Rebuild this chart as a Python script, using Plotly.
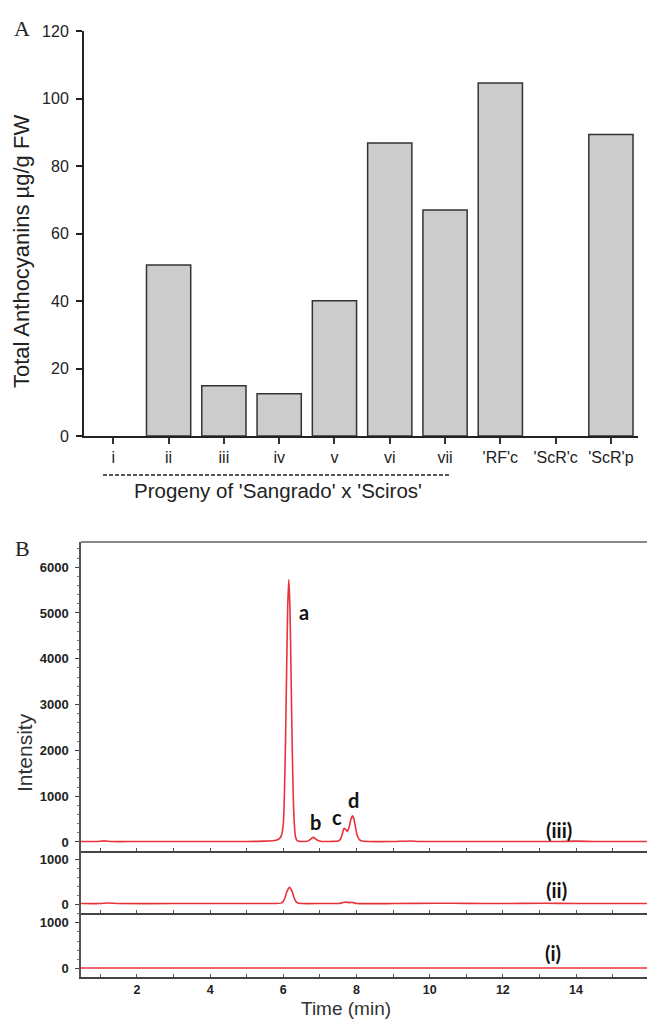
import plotly.graph_objects as go

# ---------------- Panel A data ----------------
categories = ["i", "ii", "iii", "iv", "v", "vi", "vii", "'RF'c", "'ScR'c", "'ScR'p"]
anthocyanins = [0, 50.7, 14.9, 12.5, 40.1, 86.8, 67.0, 104.6, 0, 89.3]
a_yticks = [0, 20, 40, 60, 80, 100, 120]

# ---------------- Panel B data (chromatograms) ----------------
t_iii = [0.47, 0.9, 1.1, 1.3, 2.0, 3.0, 4.0, 5.0, 5.5, 5.8, 5.9, 5.95, 6.0, 6.03, 6.06,
         6.09, 6.12, 6.15, 6.18, 6.21, 6.24, 6.27, 6.30, 6.33, 6.37, 6.42, 6.5, 6.6,
         6.7, 6.76, 6.82, 6.88, 6.95, 7.05, 7.3, 7.5, 7.56, 7.61, 7.66, 7.71, 7.75,
         7.80, 7.85, 7.89, 7.93, 7.97, 8.02, 8.08, 8.15, 8.3, 9.0, 9.5, 9.7, 10.5,
         12.0, 13.5, 14.0, 14.5, 15.0, 15.94]
i_iii = [10, 10, 25, 10, 10, 10, 10, 12, 18, 40, 80, 150, 400, 1050, 2200,
         3740, 5150, 5730, 5150, 3740, 2200, 1050, 400, 125, 40, 15, 10, 12,
         30, 70, 100, 70, 30, 12, 12, 20, 60, 170, 300, 270, 225,
         330, 500, 570, 500, 330, 140, 50, 20, 10, 10, 22, 10, 10,
         10, 10, 18, 10, 10, 10]

t_ii = [0.47, 1.0, 1.2, 1.5, 3.0, 5.0, 5.8, 5.95, 6.0, 6.05, 6.1, 6.17, 6.24, 6.29,
        6.34, 6.4, 6.5, 7.0, 7.5, 7.6, 7.7, 7.8, 7.9, 8.0, 9.0, 10.2, 11.0, 12.0,
        13.1, 14.0, 15.94]
i_ii = [10, 10, 22, 10, 10, 10, 12, 25, 60, 150, 280, 370, 280, 150,
        60, 20, 10, 10, 12, 25, 45, 30, 35, 12, 10, 18, 14, 10,
        16, 10, 10]

t_i = [0.47, 4.0, 8.0, 12.0, 15.94]
i_i = [15, 15, 15, 15, 15]

b_xticks = [2, 4, 6, 8, 10, 12, 14]

# ---------------- Figure geometry ----------------
W, H = 647, 1019


def py(px):
    return 1 - px / H


def pxx(px):
    return px / W


red = "#e8323c"
fig = go.Figure()

fig.add_trace(go.Bar(
    x=categories, y=anthocyanins, width=0.8,
    marker=dict(color="#cccccc",
                line=dict(color="#333333", width=[1.5 if v > 0 else 0 for v in anthocyanins])),
    xaxis="x", yaxis="y", showlegend=False, hoverinfo="skip"))

for t, v, ax in [(t_iii, i_iii, "2"), (t_ii, i_ii, "3"), (t_i, i_i, "4")]:
    fig.add_trace(go.Scatter(
        x=t, y=v, mode="lines", line=dict(color=red, width=1.6, shape="spline", smoothing=0.5),
        xaxis="x" + ax, yaxis="y" + ax, showlegend=False, hoverinfo="skip"))

arial = "Liberation Sans, Arial, sans-serif"

layout = dict(
    width=W, height=H, margin=dict(l=0, r=0, t=0, b=0, autoexpand=False),
    paper_bgcolor="white", plot_bgcolor="white",
    hovermode=False,
    xaxis=dict(domain=[pxx(84), pxx(638)], anchor="y", type="category", automargin=False,
               range=[-0.53, 9.49], showline=True, linecolor="#222", linewidth=2,
               ticks="outside", ticklen=6, tickwidth=1.5, tickcolor="#333",
               showgrid=False, zeroline=False,
               tickfont=dict(family=arial, size=16, color="#222")),
    yaxis=dict(domain=[py(436), py(31)], anchor="x", range=[0, 120], automargin=False,
               tickvals=a_yticks, showline=True, linecolor="#222", linewidth=2,
               ticks="outside", ticklen=6, tickwidth=1.5, tickcolor="#222",
               showgrid=False, zeroline=False, ticklabelstandoff=4,
               tickfont=dict(family=arial, size=16, color="#222")),
)

b_common_x = dict(range=[0.47, 15.94], showline=True, linecolor="#444",
                  linewidth=2, ticks="inside", ticklen=3, tickwidth=1, tickcolor="#555",
                  tickvals=b_xticks, automargin=False,
                  minor=dict(dtick=1, ticks="inside", ticklen=3, tickcolor="#555"),
                  showgrid=False, zeroline=False,
                  tickfont=dict(family=arial, size=12.5, color="#222", weight="bold"))
b_common_y = dict(showline=True, linecolor="#555", linewidth=1.5, ticks="outside", ticklen=4,
                  tickwidth=1.2, tickcolor="#444", showgrid=False, zeroline=False,
                  ticklabelstandoff=4, automargin=False,
                  minor=dict(dtick=200, ticks="outside", ticklen=2, tickcolor="#777"),
                  tickfont=dict(family=arial, size=13, color="#222", weight="bold"))

layout["xaxis2"] = dict(b_common_x, domain=[pxx(81), 1], anchor="y2", showticklabels=False)
layout["xaxis3"] = dict(b_common_x, domain=[pxx(81), 1], anchor="y3", showticklabels=False, matches="x2")
layout["xaxis4"] = dict(b_common_x, domain=[pxx(81), 1], anchor="y4", showticklabels=True, matches="x2")
layout["yaxis2"] = dict(b_common_y, domain=[py(851), py(542)], anchor="x2", range=[-197, 6550],
                        tickvals=[0, 1000, 2000, 3000, 4000, 5000, 6000])
layout["yaxis3"] = dict(b_common_y, domain=[py(913), py(851)], anchor="x3", range=[-200, 1178],
                        tickvals=[0, 1000])
layout["yaxis4"] = dict(b_common_y, domain=[py(977), py(913)], anchor="x4", range=[-180, 1211],
                        tickvals=[0, 1000])

fig.update_layout(**layout)

ann = []
serif = "Liberation Serif, Times New Roman, serif"


def pann(text, x, y, font, angle=0):
    return dict(text=text, x=pxx(x), y=py(y), xref="paper", yref="paper", showarrow=False,
                xanchor="center", yanchor="middle", textangle=angle, font=font)


ann.append(pann("A", 22, 28, dict(family=serif, size=22, color="#222")))
ann.append(pann("B", 22, 548, dict(family=serif, size=22, color="#222")))
ann.append(pann("Total Anthocyanins µg/g FW", 22, 252, dict(family=arial, size=22, color="#222"), -90))
ann.append(pann("Progeny of 'Sangrado' x 'Sciros'", 278, 490, dict(family=arial, size=20.5, color="#222")))
ann.append(pann("Intensity", 24, 753, dict(family=arial, size=21, color="#333"), -90))
ann.append(pann("Time (min)", 346, 1008, dict(family=arial, size=19, color="#333")))

lab_font = dict(family="Lato, Open Sans, sans-serif", size=20, color="#111", weight="bold")
for txt, x, y in [("a", 6.57, 5022), ("b", 6.87, 437), ("c", 7.47, 546), ("d", 7.91, 917),
                  ("(iii)", 13.54, 262)]:
    ann.append(dict(text=txt, x=x, y=y, xref="x2", yref="y2", showarrow=False, font=lab_font))
ann.append(dict(text="(ii)", x=13.46, y=311, xref="x3", yref="y3", showarrow=False, font=lab_font))
ann.append(dict(text="(i)", x=13.37, y=335, xref="x4", yref="y4", showarrow=False, font=lab_font))

fig.update_layout(annotations=ann)

# top border of panel B frame
fig.add_shape(type="line", xref="paper", yref="paper", x0=pxx(81), x1=1,
              y0=py(542), y1=py(542), line=dict(color="#888", width=2))
# dashed bracket line under progeny categories
fig.add_shape(type="line", xref="paper", yref="paper", x0=pxx(103), x1=pxx(450),
              y0=py(475), y1=py(475), line=dict(color="#222", width=1.5, dash="4px,2px"))

fig.write_html("out.html", config={"displayModeBar": False},
               post_script="document.body.style.margin='0';document.body.style.overflow='hidden';")
